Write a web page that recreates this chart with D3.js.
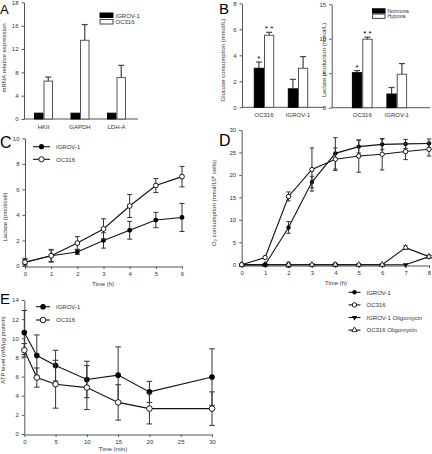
<!DOCTYPE html>
<html><head><meta charset="utf-8">
<script src="https://cdn.jsdelivr.net/npm/d3@7"></script>
<style>
html,body{margin:0;padding:0;background:#fff;}
svg{display:block;font-family:"Liberation Sans",Arial,sans-serif;}
</style></head>
<body>
<svg id="chart" width="432" height="454"></svg>
<script>
// ---------- Panel A ----------
const aCats = ["HKII", "GAPDH", "LDH-A"];
const aSeries = ["IGROV-1", "OC316"];
const aIgrov = [1.0, 1.0, 1.0];
const aIgrovErr = [0, 0, 0];
const aOc316 = [6.5, 13.5, 7.1];
const aOc316Err = [0.7, 2.7, 2.1];
const aTickValues = [0, 4, 8, 12, 16, 20];
const aTickLabels = ["0", "4", "8", "12", "16", "18"];

// ---------- Panel B ----------
const bCats = ["OC316", "IGROV-1"];
const bSeries = ["Normoxia", "Hypoxia"];
const bGlucNormoxia = [3.0, 1.42];
const bGlucNormoxiaErr = [0.48, 0.73];
const bGlucHypoxia = [5.54, 3.0];
const bGlucHypoxiaErr = [0.23, 0.9];
const bGlucStarsNormoxia = ["*", ""];
const bGlucStarsHypoxia = ["* *", ""];
const bGlucTicks = [0, 2, 4, 6, 8];
const bLactNormoxia = [5.08, 1.98];
const bLactNormoxiaErr = [0.3, 0.95];
const bLactHypoxia = [9.93, 4.85];
const bLactHypoxiaErr = [0.3, 1.55];
const bLactStarsNormoxia = ["*", ""];
const bLactStarsHypoxia = ["* *", ""];
const bLactTicks = [0, 5, 10, 15];

// ---------- Panel C ----------
const cTime = [0, 1, 2, 3, 4, 5, 6];
const cIgrov = [0.3, 0.8, 1.1, 2.0, 2.8, 3.6, 3.8];
const cIgrovErr = [0.2, 0.45, 0.2, 0.6, 0.7, 0.6, 1.1];
const cOc316 = [0.3, 0.8, 1.8, 2.9, 4.7, 6.3, 7.0];
const cOc316Err = [0.3, 0.5, 0.5, 0.8, 0.9, 0.55, 0.8];
const cYTicks = [0, 2, 4, 6, 8, 10];
const cXTicks = [0, 1, 2, 3, 4, 5, 6];

// ---------- Panel D ----------
const dTime = [0, 1, 2, 3, 4, 5, 6, 7, 8];
const dIgrov = [0, 0, 8.3, 18.4, 24.8, 26.3, 26.8, 26.9, 27.0];
const dIgrovErr = [0, 0, 1.3, 1.3, 3.5, 1.4, 1.2, 1.0, 1.0];
const dOc316 = [0, 1.6, 15.2, 21.2, 23.5, 24.2, 24.6, 25.2, 25.7];
const dOc316Err = [0, 0, 1.0, 4.8, 2.5, 3.6, 3.5, 1.8, 1.5];
const dIgrovOligo = [0, 0, 0, 0, 0, 0, 0, 0, 1.8];
const dIgrovOligoErr = [0, 0, 0.6, 0, 0.4, 0, 0, 0, 0.3];
const dOc316Oligo = [0, 0, 0, 0, 0, 0, 0, 3.8, 1.8];
const dOc316OligoErr = [0, 0, 0, 0, 0, 0, 0, 0.4, 0.3];
const dYTicks = [0, 5, 10, 15, 20, 25, 30];
const dXTicks = [0, 1, 2, 3, 4, 5, 6, 7, 8];
const dSeriesNames = ["IGROV-1", "OC316", "IGROV-1 Oligomycin", "OC316 Oligomycin"];

// ---------- Panel E ----------
const eTime = [0, 2, 5, 10, 15, 20, 30];
const eIgrov = [10.6, 8.2, 7.15, 5.7, 6.15, 4.4, 5.95];
const eIgrovErr = [2.3, 2.15, 1.6, 1.9, 2.95, 1.1, 2.95];
const eOc316 = [8.75, 5.9, 5.2, 4.85, 3.3, 2.65, 2.65];
const eOc316Err = [0.7, 1.0, 2.5, 2.3, 1.85, 1.6, 1.75];
const eYTicks = [0, 2, 4, 6, 8, 10, 12, 14];
const eXTicks = [0, 5, 10, 15, 20, 25, 30];

// ================= drawing =================
const svg = d3.select("#chart");
const AX = "#555";
const LN = "#111";
const FS = 6;
const TXT = "#333";

function styleAxis(g) {
  g.selectAll("path.domain").attr("stroke", AX).attr("stroke-width", 1);
  g.selectAll(".tick line").attr("stroke", AX);
  g.selectAll(".tick text").attr("fill", TXT).attr("font-size", FS)
    .attr("font-family", '"Liberation Sans",Arial,sans-serif');
}

function yAxis(scale, x, ticks, labels) {
  const ax = d3.axisLeft(scale).tickValues(ticks).tickSize(2.5).tickSizeOuter(0).tickPadding(3)
    .tickFormat(labels ? ((d, i) => labels[i]) : d3.format("d"));
  const g = svg.append("g").attr("transform", `translate(${x},0)`).call(ax);
  styleAxis(g);
  return g;
}
function xAxis(scale, y, ticks) {
  const ax = d3.axisBottom(scale).tickValues(ticks).tickSize(2.5).tickSizeOuter(0).tickPadding(3)
    .tickFormat(d3.format("d"));
  const g = svg.append("g").attr("transform", `translate(0,${y})`).call(ax);
  styleAxis(g);
  return g;
}
function yLabel(text, x, y) {
  svg.append("text").attr("transform", `translate(${x},${y}) rotate(-90)`)
    .attr("text-anchor", "middle").attr("font-size", FS).attr("fill", TXT).text(text);
}
function letter(t, x, y, size) {
  svg.append("text").attr("x", x).attr("y", y).attr("font-size", size).attr("fill", "#000").text(t);
}

// bar chart helper
function barPanel(cfg) {
  const x0 = d3.scaleBand().domain(cfg.cats).range(cfg.xRange).paddingInner(cfg.pi).paddingOuter(cfg.po);
  const x1 = d3.scaleBand().domain([0, 1]).range([0, x0.bandwidth()]);
  const y = d3.scaleLinear().domain(cfg.yDomain).range(cfg.yRange);
  svg.append("line").attr("x1", cfg.axisX).attr("x2", cfg.axisEnd)
    .attr("y1", y(0)).attr("y2", y(0)).attr("stroke", AX).attr("stroke-width", 1);
  yAxis(y, cfg.axisX, cfg.ticks, cfg.tickLabels);
  cfg.series.forEach((s, si) => {
    const g = svg.append("g");
    s.values.forEach((v, i) => {
      const bx = x0(cfg.cats[i]) + x1(si);
      const w = x1.bandwidth();
      const err = s.err[i];
      if (err > 0) {
        const cx = bx + w / 2;
        g.append("line").attr("x1", cx).attr("x2", cx).attr("y1", y(v)).attr("y2", y(v + err))
          .attr("stroke", "#444").attr("stroke-width", 1.2);
        g.append("line").attr("x1", cx - 3).attr("x2", cx + 3).attr("y1", y(v + err)).attr("y2", y(v + err))
          .attr("stroke", "#444").attr("stroke-width", 1.2);
      }
      g.append("rect").attr("x", bx + 0.5).attr("y", y(v)).attr("width", w - 1).attr("height", y(0) - y(v))
        .attr("fill", s.fill).attr("stroke", s.fill === "#000" ? "#000" : "#555").attr("stroke-width", 1);
      if (s.stars && s.stars[i]) {
        svg.append("text").attr("x", bx + w / 2).attr("y", y(v + err) - 1)
          .attr("text-anchor", "middle").attr("font-size", 8).attr("fill", "#000")
          .text(s.stars[i]);
      }
    });
  });
  svg.append("g").selectAll("text").data(cfg.cats).join("text")
    .attr("x", d => x0(d) + x0.bandwidth() / 2).attr("y", y(0) + 9.5)
    .attr("text-anchor", "middle").attr("font-size", FS).attr("fill", TXT).text(d => d);
  return { x0, y };
}

function swatchLegend(names, fills, x, y, dy, w, h, fs) {
  names.forEach((n, i) => {
    svg.append("rect").attr("x", x).attr("y", y + i * dy).attr("width", w).attr("height", h)
      .attr("fill", fills[i]).attr("stroke", fills[i] === "#000" ? "#000" : "#444").attr("stroke-width", 1);
    svg.append("text").attr("x", x + w + 2.5).attr("y", y + i * dy + h)
      .attr("font-size", fs).attr("fill", TXT).text(n);
  });
}

// ----- A -----
barPanel({
  cats: aCats, xRange: [26, 134], pi: 0.48, po: 0.22, yDomain: [0, 20], yRange: [119, 2.4],
  axisX: 24, axisEnd: 138, ticks: aTickValues, tickLabels: aTickLabels,
  series: [
    { values: aIgrov, err: aIgrovErr, fill: "#000" },
    { values: aOc316, err: aOc316Err, fill: "#fff" }
  ]
});
yLabel("mRNA relative expression", 5.5, 58);
swatchLegend(aSeries, ["#000", "#fff"], 100, 13, 6.5, 13, 4.5, FS);
letter("A", 0, 13.5, 13);

// ----- B left -----
barPanel({
  cats: bCats, xRange: [247, 315], pi: 0.4, po: 0.2, yDomain: [0, 8], yRange: [107.3, 3.3],
  axisX: 242, axisEnd: 325, ticks: bGlucTicks,
  series: [
    { values: bGlucNormoxia, err: bGlucNormoxiaErr, fill: "#000", stars: bGlucStarsNormoxia },
    { values: bGlucHypoxia, err: bGlucHypoxiaErr, fill: "#fff", stars: bGlucStarsHypoxia }
  ]
});
yLabel("Glucose consumption (mmol/L)", 225, 60);
// ----- B right -----
barPanel({
  cats: bCats, xRange: [345, 414], pi: 0.4, po: 0.2, yDomain: [0, 15], yRange: [107.7, 4.3],
  axisX: 331.7, axisEnd: 430, ticks: bLactTicks,
  series: [
    { values: bLactNormoxia, err: bLactNormoxiaErr, fill: "#000", stars: bLactStarsNormoxia },
    { values: bLactHypoxia, err: bLactHypoxiaErr, fill: "#fff", stars: bLactStarsHypoxia }
  ]
});
yLabel("Lactate production (mmol/L)", 326, 60);
swatchLegend(bSeries, ["#000", "#fff"], 372.5, 8.8, 5.3, 12.5, 4.3, 5);
letter("B", 219, 14, 15);

// ----- line chart helpers -----
function drawMarker(g, marker, cx, cy, r) {
  if (marker === "fc") g.append("circle").attr("cx", cx).attr("cy", cy).attr("r", r).attr("fill", "#000");
  else if (marker === "oc") g.append("circle").attr("cx", cx).attr("cy", cy).attr("r", r)
    .attr("fill", "#fff").attr("stroke", "#000").attr("stroke-width", 0.9);
  else if (marker === "ft") g.append("path").attr("transform", `translate(${cx},${cy}) rotate(180)`)
    .attr("d", d3.symbol(d3.symbolTriangle, r * r * 2.6)()).attr("fill", "#000");
  else if (marker === "ot") g.append("path").attr("transform", `translate(${cx},${cy})`)
    .attr("d", d3.symbol(d3.symbolTriangle, r * r * 2.6)()).attr("fill", "#fff").attr("stroke", "#000").attr("stroke-width", 0.8);
}
function drawSeries(xs, ys, vals, errs, marker, r, capW) {
  const g = svg.append("g");
  const pts = vals.map((v, i) => [xs(i), ys(v)]);
  g.append("path").attr("d", d3.line()(pts)).attr("fill", "none").attr("stroke", LN).attr("stroke-width", 1.1);
  vals.forEach((v, i) => {
    const e = errs[i];
    if (e > 0) {
      const cx = xs(i);
      g.append("line").attr("x1", cx).attr("x2", cx).attr("y1", ys(v - e)).attr("y2", ys(v + e))
        .attr("stroke", "#333").attr("stroke-width", 1);
      [v - e, v + e].forEach(t => g.append("line").attr("x1", cx - capW).attr("x2", cx + capW)
        .attr("y1", ys(t)).attr("y2", ys(t)).attr("stroke", "#333").attr("stroke-width", 1));
    }
  });
  vals.forEach((v, i) => drawMarker(g, marker, xs(i), ys(v), r));
}
function lineLegend(names, markers, x, y, dy, r, len) {
  names.forEach((n, i) => {
    const yy = y + i * dy;
    svg.append("line").attr("x1", x).attr("x2", x + len).attr("y1", yy).attr("y2", yy)
      .attr("stroke", LN).attr("stroke-width", 1.1);
    drawMarker(svg, markers[i], x + len / 2, yy, r);
    svg.append("text").attr("x", x + len + 6).attr("y", yy + 2.2).attr("font-size", FS).attr("fill", TXT).text(n);
  });
}

// ----- C -----
{
  const x = d3.scaleLinear().domain([0, 6]).range([25, 182]);
  const y = d3.scaleLinear().domain([0, 10]).range([266, 138.3]);
  yAxis(y, 25, cYTicks);
  xAxis(x, 266.5, cXTicks);
  const xs = i => x(cTime[i]);
  drawSeries(xs, y, cIgrov, cIgrovErr, "fc", 2.4, 2.5);
  drawSeries(xs, y, cOc316, cOc316Err, "oc", 2.4, 2.5);
  svg.append("text").attr("x", 103).attr("y", 286).attr("text-anchor", "middle").attr("font-size", FS).attr("fill", TXT).text("Time (h)");
  yLabel("Lactate (pmol/cell)", 6.5, 217);
  lineLegend(["IGROV-1", "OC316"], ["fc", "oc"], 33, 146.7, 12.6, 2.6, 17);
  letter("C", 0, 148, 16);
}

// ----- D -----
{
  const x = d3.scaleLinear().domain([0, 8]).range([241.7, 429]);
  const y = d3.scaleLinear().domain([0, 30]).range([264.7, 130]);
  yAxis(y, 241.7, dYTicks);
  xAxis(x, 265.5, dXTicks);
  const xs = i => x(dTime[i]);
  drawSeries(xs, y, dIgrovOligo, dIgrovOligoErr, "ft", 2.2, 2.2);
  drawSeries(xs, y, dOc316Oligo, dOc316OligoErr, "ot", 2.2, 2.2);
  drawSeries(xs, y, dIgrov, dIgrovErr, "fc", 2.2, 2.2);
  drawSeries(xs, y, dOc316, dOc316Err, "oc", 2.2, 2.2);
  svg.append("text").attr("x", 336).attr("y", 284.5).attr("text-anchor", "middle").attr("font-size", FS).attr("fill", TXT).text("Time (h)");
  yLabel("O₂ consumption (nmol/10⁶ cells)", 216, 203);
  lineLegend(dSeriesNames, ["fc", "oc", "ft", "ot"], 348.5, 292.3, 12.6, 2.2, 12);
  letter("D", 219, 146, 16);
}

// ----- E -----
{
  const x = d3.scaleLinear().domain([0, 30]).range([24.3, 212]);
  const y = d3.scaleLinear().domain([0, 14]).range([434, 300]);
  yAxis(y, 24.3, eYTicks);
  xAxis(x, 434.5, eXTicks);
  const xs = i => x(eTime[i]);
  drawSeries(xs, y, eIgrov, eIgrovErr, "fc", 2.8, 2.8);
  drawSeries(xs, y, eOc316, eOc316Err, "oc", 2.8, 2.8);
  svg.append("text").attr("x", 113).attr("y", 451).attr("text-anchor", "middle").attr("font-size", FS).attr("fill", TXT).text("Time (min)");
  yLabel("ATP level (nM/µg protein)", 4.5, 350);
  lineLegend(["IGROV-1", "OC316"], ["fc", "oc"], 36, 306.7, 13.3, 2.8, 14);
  letter("E", 0, 304, 15);
}
</script>
</body></html>
